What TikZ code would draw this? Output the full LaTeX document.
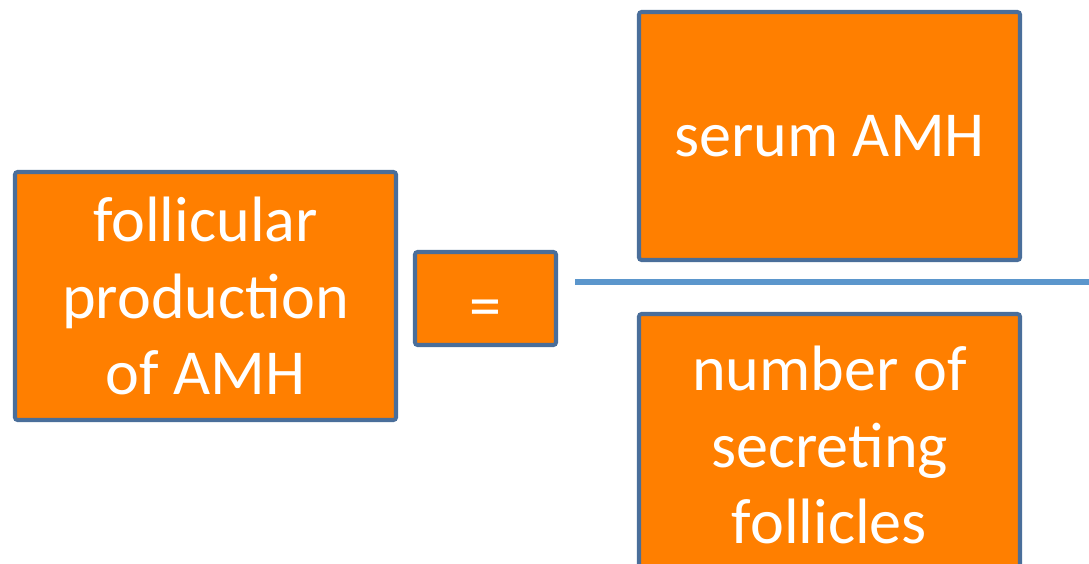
\documentclass[tikz,border=0pt]{standalone}
\usepackage{fontspec}
\setmainfont{Carlito}
\definecolor{boxfill}{HTML}{FF7F00}
\definecolor{boxline}{HTML}{4A6E9A}
\definecolor{barline}{HTML}{5B96CC}
\tikzset{
  termbox/.style={draw=boxline,fill=boxfill,line width=2.3pt,rounded corners=1.5pt,
    text=white,align=center,inner sep=0pt,
    font=\fontsize{36.5}{43.5}\selectfont},
}
\begin{document}
\begin{tikzpicture}[x=0.02cm,y=-0.02cm]
  \useasboundingbox (0,0) rectangle (1089,564);
  % left side
  \node[termbox,minimum width=381*0.02cm,minimum height=248*0.02cm] (prod) at (205.5,296)
    {follicular\\production\\of AMH};
  \node[termbox,minimum width=141*0.02cm,minimum height=93*0.02cm,text height=33pt,text depth=0pt] (eq) at (485.5,298.5) {=};
  % fraction
  \node[termbox,minimum width=381*0.02cm,minimum height=248*0.02cm] (serum) at (829.5,136)
    {serum AMH};
  \node[termbox,minimum width=381*0.02cm,minimum height=262*0.02cm] (count) at (829.5,445)
    {number of\\secreting\\follicles};
  \coordinate (barL) at (575,282);
  \coordinate (barR) at (1089,282);
  \draw[barline,line width=3pt] (barL) -- (barR);
\end{tikzpicture}
\end{document}
